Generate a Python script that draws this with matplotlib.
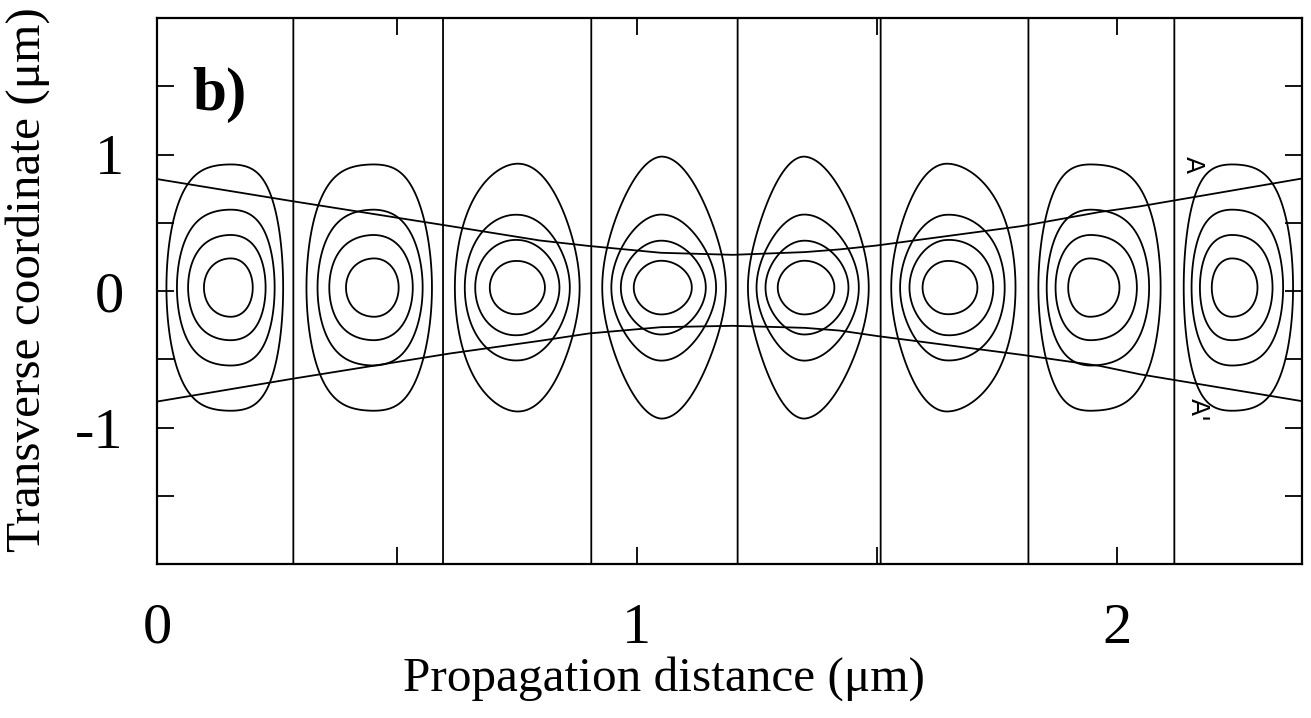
import numpy as np
import matplotlib
matplotlib.use("Agg")
import matplotlib.pyplot as plt
from matplotlib.ticker import MultipleLocator

# positions (um)
lobe_x = [0.154, 0.453, 0.750, 1.051, 1.349, 1.648, 1.944, 2.240]   # lobe centres
node_x = [0.284, 0.596, 0.905, 1.210, 1.508, 1.816, 2.120]          # vertical nodal lines
edge_phase = [-0.48, 7.48]     # phase (units of pi) at left and right edge
lobe_y0 = 0.025
# shape of each lobe: peak, transverse width / decay, widening near the nodes
lobe_amp = [0.95, 0.95, 0.97, 1.0, 1.0, 0.97, 0.95, 0.95]
lobe_a = [0.50, 0.50, 0.36, 0.30, 0.30, 0.36, 0.50, 0.50]
lobe_m = [0.95, 0.95, 0.70, 0.59, 0.59, 0.70, 0.95, 0.95]
lobe_k = [0.5, 0.5, 0.15, 0.0, 0.0, 0.15, 0.5, 0.5]
levels = [-0.81, -0.61, -0.43, -0.24, 0.0, 0.24, 0.43, 0.61, 0.81]

# beam envelope lines A / A'
env_x = [0.0, 0.284, 0.61, 0.798, 0.9, 1.05, 1.2, 1.35, 1.423, 1.499, 1.803, 1.965, 2.048, 2.386]
env_upper = [0.82, 0.657, 0.476, 0.37, 0.33, 0.28, 0.265, 0.285, 0.305, 0.333, 0.476, 0.579, 0.62, 0.824]
env_lower = [-0.81, -0.642, -0.458, -0.365, -0.311, -0.265, -0.255, -0.27, -0.29, -0.329, -0.468, -0.549, -0.61, -0.807]

x_ticks = [0, 1, 2]
y_ticks = [-1, 0, 1]
x_max = 2.386

plt.rcParams['font.family'] = ['Liberation Serif', 'DejaVu Serif']
plt.rcParams['contour.negative_linestyle'] = 'solid'

fig = plt.figure(figsize=(13.11, 7.18), dpi=100)
ax = fig.add_axes([157/1311, 1 - 564/718, 1145/1311, 546/718])

x = np.linspace(0, x_max, 1400)
y = np.linspace(-2, 2, 900)
X, Y = np.meshgrid(x, y)
knots = np.concatenate(([0.0], np.sort(lobe_x + node_x), [x_max]))
phase = np.concatenate(([edge_phase[0]], np.arange(0, 7.01, 0.5), [edge_phase[1]]))
c = np.cos(np.pi * np.interp(X, knots, phase))

amp = np.interp(X, lobe_x, lobe_amp)
a = np.interp(X, lobe_x, lobe_a)
m = np.interp(X, lobe_x, lobe_m)
k = np.interp(X, lobe_x, lobe_k)
g = 1 + k * (1 - np.abs(c))
field = amp * c * (1 + ((Y - lobe_y0) / (a * g)) ** 2) ** (-m)

ax.contour(X, Y, field, levels=levels, colors='k', linewidths=1.3, linestyles='solid')
ax.plot(env_x, env_upper, color='k', lw=1.3)
ax.plot(env_x, env_lower, color='k', lw=1.3)

ax.text(2.158, 0.925, 'A', rotation=-90, ha='center', va='center', fontsize=18, family='DejaVu Sans')
ax.text(2.169, -0.87, "A'", rotation=-90, ha='center', va='center', fontsize=18, family='DejaVu Sans')
ax.text(0.073, 1.33, 'b)', fontsize=44, fontweight='bold', va='baseline', ha='left')

ax.set_xlim(0, x_max)
ax.set_ylim(-2, 2)
ax.set_xticks(x_ticks)
ax.set_yticks(y_ticks)
ax.set_yticklabels([str(v) for v in y_ticks])
ax.xaxis.set_minor_locator(MultipleLocator(0.5))
ax.yaxis.set_minor_locator(MultipleLocator(0.5))
ax.tick_params(which='both', direction='in', top=True, right=True, length=12, width=1.3)
ax.tick_params(axis='x', which='major', labelsize=42, pad=28)
ax.tick_params(axis='y', which='major', labelsize=42, pad=24)
for s in ax.spines.values():
    s.set_linewidth(1.6)

fig.text(664/1311, 1 - 691/718, 'Propagation distance (μm)', fontsize=35.5, ha='center', va='baseline')
fig.text(28/1311, 1 - 280/718, 'Transverse coordinate (μm)', fontsize=35.5, rotation=90,
         ha='center', va='center')

fig.savefig('out.png', dpi=100)
